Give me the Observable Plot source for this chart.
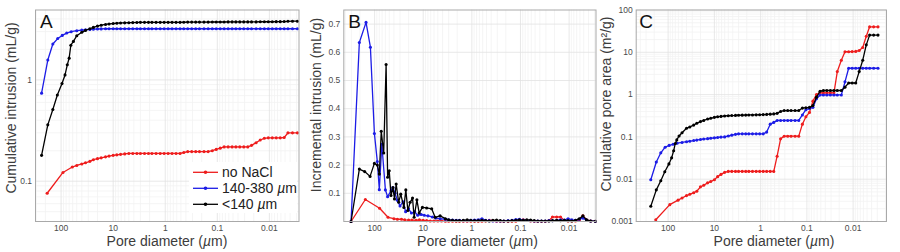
<!DOCTYPE html>
<html>
<head>
<meta charset="utf-8">
<script src="https://cdn.jsdelivr.net/npm/d3@7"></script>
<script src="https://cdn.jsdelivr.net/npm/@observablehq/plot@0.6"></script>
<style>
  html, body { margin: 0; padding: 0; background: #fff; }
  #wrap { position: relative; width: 900px; height: 252px; overflow: hidden;
          font-family: "Liberation Sans", Arial, Helvetica, sans-serif; }
  #wrap svg { position: absolute; top: 0; }
</style>
</head>
<body>
<div id="wrap"></div>
<script>
// ---------------- DATA ----------------
const seriesNames = ["no NaCl", "140-380 µm", "<140 µm"];
const seriesColors = ["#ee1c1c", "#1c1ce6", "#000000"];

const xTicks = [100, 10, 1, 0.1, 0.01];
const xTickLabels = ["100", "10", "1", "0.1", "0.01"];
const aYTicks = [1, 0.1];
const aYTickLabels = ["1", "0.1"];
const bYTicks = [0.1, 0.2, 0.3, 0.4, 0.5, 0.6, 0.7];
const bYTickLabels = ["0.1", "0.2", "0.3", "0.4", "0.5", "0.6", "0.7"];
const cYTicks = [0.001, 0.01, 0.1, 1, 10, 100];
const cYTickLabels = ["0.001", "0.01", "0.1", "1", "10", "100"];

// pore diameters (µm) shared by the fine part of every series
const tailD = [40, 34, 28, 24, 20, 17, 14, 12, 10, 8.5,
  7.2, 6, 5, 4.2, 3.5, 3, 2.5, 2.1, 1.8, 1.5,
  1.25, 1.05, 0.88, 0.74, 0.62, 0.52, 0.44, 0.37, 0.31, 0.26,
  0.22, 0.18, 0.15, 0.125, 0.105, 0.088, 0.074, 0.062, 0.052, 0.044,
  0.037, 0.031, 0.026, 0.022, 0.018, 0.015, 0.0125, 0.0105, 0.0088, 0.0074,
  0.0062, 0.0052, 0.0044, 0.0036, 0.0029];

const redHeadD = [185, 92, 61, 50];
const blueHeadD = [237, 180, 144, 116, 95, 78, 64, 50];
const blackHeadD = [237, 180, 144, 118, 96, 84, 76, 70, 65, 58, 50];

// Panel A: cumulative intrusion (mL/g)
const aRedV = [0.076, 0.122, 0.138, 0.143,
  0.148, 0.152, 0.157, 0.163, 0.167, 0.170, 0.174, 0.177, 0.180, 0.182,
  0.184, 0.186, 0.188, 0.188, 0.188, 0.188, 0.188, 0.188, 0.188, 0.188,
  0.188, 0.188, 0.188, 0.188, 0.188, 0.188, 0.192, 0.196, 0.196, 0.196,
  0.196, 0.196, 0.196, 0.2, 0.206, 0.212, 0.218, 0.218, 0.218, 0.218,
  0.218, 0.218, 0.218, 0.226, 0.24, 0.255, 0.265, 0.268, 0.268, 0.268,
  0.268, 0.27, 0.3, 0.3, 0.3];
const aBlueV = [0.74, 1.57, 2.26, 2.56, 2.75, 2.9, 2.99, 3.06,
  3.1, 3.13, 3.15, 3.17, 3.18, 3.19, 3.2, 3.2, 3.2, 3.2,
  3.2, 3.2, 3.2, 3.2, 3.2, 3.2, 3.2, 3.2, 3.2, 3.2,
  3.2, 3.2, 3.2, 3.2, 3.2, 3.2, 3.2, 3.2, 3.2, 3.2,
  3.2, 3.2, 3.2, 3.2, 3.2, 3.2, 3.2, 3.2, 3.2, 3.2,
  3.2, 3.2, 3.2, 3.2, 3.2, 3.2, 3.2, 3.2, 3.2, 3.2,
  3.2, 3.2, 3.2, 3.2, 3.2];
const aBlackV = [0.18, 0.36, 0.51, 0.71, 0.92, 1.12, 1.41, 1.64, 2.2, 2.4, 2.73,
  2.95, 3.08, 3.2, 3.3, 3.4, 3.47, 3.53, 3.57, 3.6, 3.63,
  3.65, 3.66, 3.67, 3.68, 3.69, 3.7, 3.7, 3.7, 3.7, 3.7,
  3.7, 3.7, 3.7, 3.7, 3.7, 3.7, 3.71, 3.72, 3.72, 3.72,
  3.72, 3.72, 3.72, 3.73, 3.73, 3.73, 3.73, 3.74, 3.74, 3.74,
  3.74, 3.74, 3.74, 3.74, 3.74, 3.75, 3.75, 3.75, 3.75, 3.76,
  3.76, 3.77, 3.79, 3.8, 3.8];

// Panel B: incremental intrusion (mL/g)
const bRedD = [305, 155, 79, 53, ...tailD];
const bRedV = [0, 0.078, 0.047, 0.015,
  0.01, 0.008, 0.008, 0.006, 0.005, 0.005, 0.004, 0.006, 0.004, 0.003,
  0.002, 0.002, 0.002, 0.002, 0.001, 0.001, 0.001, 0.001, 0.001, 0.001,
  0.001, 0.001, 0.001, 0.001, 0.001, 0.002, 0.004, 0.003, 0.001, 0.001,
  0.001, 0.001, 0.001, 0.001, 0.004, 0.006, 0.004, 0.002, 0.001, 0.001,
  0.001, 0.001, 0.003, 0.016, 0.016, 0.016, 0.004, 0.002, 0.002, 0.002,
  0.004, 0.02, 0.006, 0.002, 0.001];
const bBlueD = [305, 206, 150, 122, 101, 88, 80, 71, 60, 54, 46, 42, 38, 34, 30,
  26, 23, 20, 17.5, 15, 13, 11, 9.5, 8, 6.5, 5.5, 4.5, ...tailD.slice(14)];
const bBlueV = [0, 0.635, 0.706, 0.618, 0.312, 0.213, 0.113, 0.274, 0.112, 0.088,
  0.109, 0.12, 0.1, 0.075, 0.055, 0.07, 0.035, 0.045, 0.03, 0.035,
  0.022, 0.025, 0.022, 0.02, 0.016, 0.012, 0.01,
  0.008, 0.006, 0.005, 0.004, 0.004, 0.003,
  0.003, 0.004, 0.005, 0.006, 0.01, 0.004, 0.003, 0.002, 0.002, 0.002,
  0.002, 0.003, 0.004, 0.007, 0.008, 0.005, 0.004, 0.003, 0.002, 0.002,
  0.002, 0.002, 0.003, 0.003, 0.004, 0.006, 0.005, 0.01, 0.006, 0.004,
  0.008, 0.012, 0.005, 0.002, 0.001];
const bBlackD = [305, 206, 160, 124, 101, 88, 80, 73, 65, 58, 54, 50, 46, 42, 39,
  36, 32, 29, 25, 22.8, 20.7, 18.6, 16.6, 15.4, 13.5, 12.1, 10.4, 8.5, 6.7, 5.7, 4.5,
  ...tailD.slice(14)];
const bBlackV = [0, 0.186, 0.177, 0.16, 0.206, 0.2, 0.168, 0.32, 0.243, 0.557,
  0.157, 0.18, 0.092, 0.12, 0.08, 0.133, 0.068, 0.097, 0.05, 0.112,
  0.039, 0.068, 0.083, 0.015, 0.077, 0.03, 0.05, 0.048, 0.045, 0.015, 0.02,
  0.01, 0.006, 0.004, 0.003, 0.003, 0.004,
  0.006, 0.004, 0.003, 0.003, 0.004, 0.003, 0.002, 0.004, 0.005, 0.003,
  0.002, 0.002, 0.003, 0.004, 0.006, 0.004, 0.006, 0.005, 0.003, 0.002,
  0.002, 0.002, 0.002, 0.003, 0.004, 0.003, 0.004, 0.003, 0.002, 0.004,
  0.01, 0.02, 0.006, 0.002, 0.001];

// Panel C: cumulative pore area (m²/g)
const cRedV = [0.0011, 0.0025, 0.0032, 0.0036,
  0.0041, 0.0044, 0.0048, 0.0052, 0.0066, 0.0072, 0.0082, 0.0088, 0.0097, 0.0115,
  0.013, 0.0145, 0.0153, 0.0153, 0.0153, 0.0153, 0.0153, 0.0153, 0.0153, 0.0153,
  0.0153, 0.0153, 0.0153, 0.0153, 0.0153, 0.0153, 0.035, 0.09, 0.104, 0.104,
  0.104, 0.104, 0.104, 0.2, 0.3, 0.38, 0.7, 1.0, 1.1, 1.1,
  1.1, 1.1, 1.1, 3.5, 6.5, 10.3, 10.3, 10.4, 10.5, 11,
  13, 24, 40, 40, 40];
const cBlueV = [0.0097, 0.0255, 0.042, 0.057, 0.063, 0.067, 0.071, 0.074,
  0.077, 0.079, 0.082, 0.084, 0.087, 0.089, 0.091, 0.093, 0.095, 0.097,
  0.099, 0.1, 0.105, 0.11, 0.115, 0.118, 0.118, 0.118, 0.118, 0.118,
  0.118, 0.118, 0.118, 0.13, 0.2, 0.22, 0.245, 0.245, 0.245, 0.245,
  0.245, 0.245, 0.245, 0.33, 0.44, 0.47, 0.5, 0.8, 0.98, 0.98,
  0.98, 0.98, 0.98, 0.98, 0.98, 2.0, 4.2, 4.2, 4.2, 4.2,
  4.2, 4.2, 4.2, 4.2, 4.2];
const cBlackV = [0.0023, 0.0056, 0.0092, 0.015, 0.023, 0.032, 0.047, 0.07, 0.085, 0.105, 0.125,
  0.16, 0.172, 0.19, 0.21, 0.23, 0.245, 0.265, 0.275, 0.29, 0.3,
  0.305, 0.312, 0.317, 0.32, 0.322, 0.325, 0.327, 0.328, 0.33, 0.33,
  0.332, 0.335, 0.337, 0.34, 0.345, 0.35, 0.36, 0.4, 0.42, 0.42,
  0.42, 0.42, 0.42, 0.48, 0.49, 0.5, 0.55, 0.87, 1.2, 1.25,
  1.25, 1.25, 1.25, 1.25, 1.25, 1.5, 1.88, 1.88, 1.88, 3.5,
  6.5, 15, 25.5, 25.5, 25.5];

// ---------------- DRAWING ----------------
const redD = [...redHeadD, ...tailD];
const blueD = [...blueHeadD, ...tailD];
const blackD = [...blackHeadD, ...tailD];

function rows(D, V) {
  if (D.length !== V.length) console.warn("length mismatch", D.length, V.length);
  const n = Math.min(D.length, V.length);
  return D.slice(0, n).map((d, i) => ({d, v: V[i]}));
}

function logGrid(lo, hi) {
  const major = [], minor = [];
  for (let e = Math.floor(Math.log10(lo)); e <= Math.ceil(Math.log10(hi)); e++) {
    for (let m = 1; m <= 9; m++) {
      const v = +(m * Math.pow(10, e)).toPrecision(6);
      if (v < lo || v > hi) continue;
      (m === 1 ? major : minor).push(v);
    }
  }
  return {major, minor};
}

const MAJOR = "#e2e2e2", MINOR = "#f2f2f2", FRAME = "#a9a9a9";
const TICK_COLOR = "#4a4a4a", LABEL_COLOR = "#3c3c3c";
const W = 300, H = 252, MT = 9.5, MB = 31;

function addText(svg, x, y, parts, opts = {}) {
  const t = d3.select(svg).append("text")
    .attr("x", x).attr("y", y)
    .attr("font-size", opts.size || 14)
    .attr("fill", opts.fill || LABEL_COLOR)
    .attr("text-anchor", opts.anchor || "middle")
    .attr("font-family", '"Liberation Sans", Arial, sans-serif');
  if (opts.rotate) t.attr("transform", `rotate(-90 ${x} ${y})`);
  for (const p of parts) {
    const s = t.append("tspan").text(p.t ?? p);
    if (p.i) s.attr("font-style", "italic");
  }
  return t;
}

function makePanel(cfg) {
  const [xa, xb] = cfg.xDomain;
  const xg = logGrid(Math.min(xa, xb), Math.max(xa, xb));
  const marks = [];
  marks.push(Plot.ruleX(xg.minor, {stroke: MINOR, strokeWidth: 0.8}));
  if (cfg.yType === "log") {
    const yg = logGrid(cfg.yDomain[0], cfg.yDomain[1]);
    marks.push(Plot.ruleY(yg.minor, {stroke: MINOR, strokeWidth: 0.8}));
    marks.push(Plot.ruleY(yg.major, {stroke: MAJOR, strokeWidth: 0.8}));
  } else {
    marks.push(Plot.ruleY(cfg.yTicks, {stroke: MAJOR, strokeWidth: 0.8}));
  }
  marks.push(Plot.ruleX(xg.major, {stroke: MAJOR, strokeWidth: 0.8}));
  cfg.series.forEach((data, k) => {
    marks.push(Plot.line(data, {x: "d", y: "v", stroke: seriesColors[k], strokeWidth: 1.3}));
    marks.push(Plot.dot(data, {x: "d", y: "v", fill: seriesColors[k], r: 1.55, stroke: "none"}));
  });
  const xMap = new Map(xTicks.map((t, i) => [t, xTickLabels[i]]));
  const yMap = new Map(cfg.yTicks.map((t, i) => [t, cfg.yTickLabels[i]]));
  marks.push(Plot.axisX({ticks: xTicks, tickFormat: d => xMap.get(d), tickSize: 0, tickPadding: 3,
    fontSize: 8.5, color: TICK_COLOR, label: null}));
  marks.push(Plot.axisY({ticks: cfg.yTicks, tickFormat: d => yMap.get(d), tickSize: 0, tickPadding: 3.5,
    fontSize: 8.5, color: TICK_COLOR, label: null}));
  marks.push(Plot.frame({stroke: FRAME, strokeWidth: 1}));

  const svg = Plot.plot({
    width: W, height: H,
    marginLeft: cfg.marginLeft, marginRight: cfg.marginRight, marginTop: MT, marginBottom: MB,
    x: {type: "log", domain: cfg.xDomain},
    y: {type: cfg.yType, domain: cfg.yDomain},
    style: {background: "transparent", fontFamily: '"Liberation Sans", Arial, sans-serif', overflow: "visible"},
    marks
  });
  svg.style.left = cfg.left + "px";
  document.getElementById("wrap").appendChild(svg);

  // axis titles and panel letter
  addText(svg, cfg.xLabelX, 246, ["Pore diameter (", {t: "µ", i: true}, "m)"]);
  addText(svg, cfg.yLabelX, cfg.yLabelY, [cfg.yLabel], {rotate: true});
  addText(svg, cfg.letterX, 28.3, [cfg.letter], {size: 19, fill: "#111", anchor: "start"});
  return svg;
}

const svgA = makePanel({
  left: 0, marginLeft: 35, marginRight: 1.5, xDomain: [310, 0.0027],
  yType: "log", yDomain: [0.04, 4.9], yTicks: aYTicks, yTickLabels: aYTickLabels,
  series: [rows(redD, aRedV), rows(blueD, aBlueV), rows(blackD, aBlackV)],
  xLabelX: 167, yLabelX: 15.5, yLabelY: 108, yLabel: "Cumulative intrusion (mL/g)",
  letter: "A", letterX: 40
});
makePanel({
  left: 300, marginLeft: 43.3, marginRight: 4.5, xDomain: [430, 0.0028],
  yType: "linear", yDomain: [0, 0.75], yTicks: bYTicks, yTickLabels: bYTickLabels,
  series: [rows(bRedD, bRedV), rows(bBlueD, bBlueV), rows(bBlackD, bBlackV)],
  xLabelX: 177.5, yLabelX: 20.5, yLabelY: 105, yLabel: "Incremental intrusion (mL/g)",
  letter: "B", letterX: 48.3
});
makePanel({
  left: 600, marginLeft: 35.7, marginRight: 14, xDomain: [490, 0.0019],
  yType: "log", yDomain: [0.001, 100], yTicks: cYTicks, yTickLabels: cYTickLabels,
  series: [rows(redD, cRedV), rows(blueD, cBlueV), rows(blackD, cBlackV)],
  xLabelX: 174, yLabelX: 10.5, yLabelY: 104, yLabel: "Cumulative pore area (m²/g)",
  letter: "C", letterX: 39.3
});

// legend in panel A
(function legend(svg) {
  const g = d3.select(svg).append("g");
  g.append("rect").attr("x", 189).attr("y", 162).attr("width", 108).attr("height", 51).attr("fill", "#fff");
  const rowsY = [172.3, 188.3, 204.3];
  seriesNames.forEach((name, k) => {
    const y = rowsY[k];
    g.append("line").attr("x1", 193).attr("x2", 218).attr("y1", y).attr("y2", y)
      .attr("stroke", seriesColors[k]).attr("stroke-width", 1.3);
    g.append("circle").attr("cx", 205.5).attr("cy", y).attr("r", 1.8).attr("fill", seriesColors[k]);
    const parts = name.includes("µ") ? [name.split("µ")[0], {t: "µ", i: true}, name.split("µ")[1]] : [name];
    addText(svg, 222, y + 5, parts, {anchor: "start", fill: "#222"});
  });
})(svgA);
</script>
</body>
</html>
